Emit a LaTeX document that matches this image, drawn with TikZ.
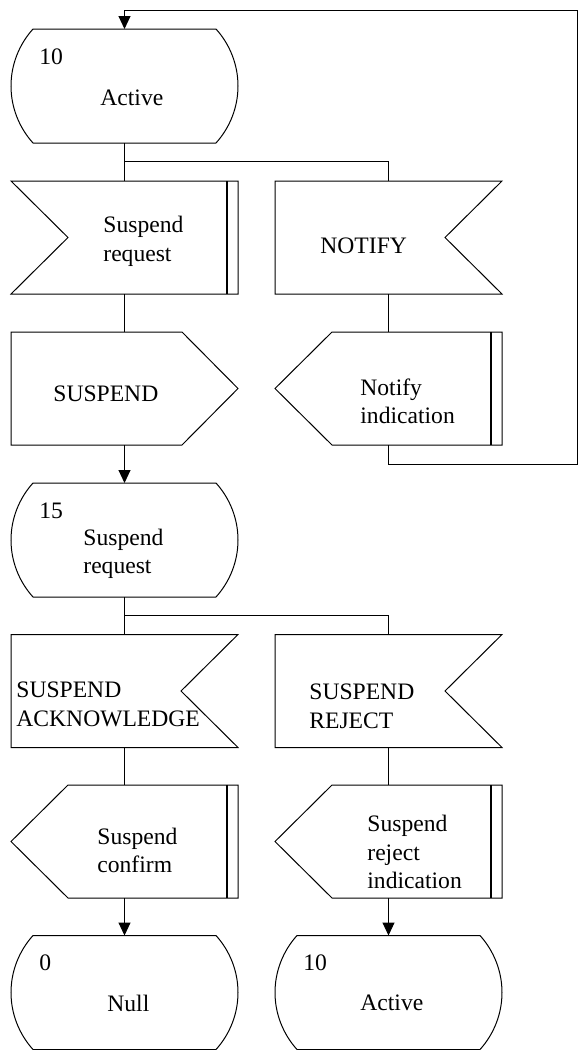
\documentclass[tikz,border=0pt]{standalone}
\usepackage{fontspec}
\setmainfont{Liberation Serif}
\usetikzlibrary{arrows.meta}

% SDL-style symbols, all drawn around their centre (units: x right, y down)
\tikzset{
  outline/.style={draw=black,line width=0.5pt,line join=miter},
  bar/.style={draw=black,line width=1pt},
  wire/.style={draw=black,line width=0.5pt},
  arr/.style={wire,-{Triangle[length=6.5pt,width=6pt]}},
  lbl/.style={anchor=west,align=left,inner sep=0pt,
              font=\fontsize{11.8}{14.3}\selectfont},
  % state symbol: flat top and bottom, rounded sides
  pics/state/.style={code={
    \draw[outline] (-91.5,-57) -- (91.5,-57)
      .. controls (105.6,-41.4) and (113.5,-21) .. (113.5,0)
      .. controls (113.5,21) and (105.6,41.4) .. (91.5,57)
      -- (-91.5,57)
      .. controls (-105.6,41.4) and (-113.5,21) .. (-113.5,0)
      .. controls (-113.5,-21) and (-105.6,-41.4) .. (-91.5,-57) -- cycle;
    \coordinate (-n) at (0,-57);
    \coordinate (-s) at (0,57);
  }},
  % input with notch on the right
  pics/inright/.style={code={
    \draw[outline] (-113.5,-56.5) -- (113.5,-56.5) -- (56.5,0)
      -- (113.5,56.5) -- (-113.5,56.5) -- cycle;
    \coordinate (-n) at (0,-56.5);
    \coordinate (-s) at (0,56.5);
  }},
  % input with notch on the left and a double bar on the right
  pics/inleft/.style={code={
    \draw[outline] (-113.5,-56.5) -- (113.5,-56.5) -- (113.5,56.5)
      -- (-113.5,56.5) -- (-56.5,0) -- cycle;
    \draw[bar] (102.5,-56.5) -- (102.5,56.5);
    \coordinate (-n) at (0,-56.5);
    \coordinate (-s) at (0,56.5);
  }},
  % output pointing right
  pics/outright/.style={code={
    \draw[outline] (-113.5,-56.5) -- (57.5,-56.5) -- (113.5,0)
      -- (57.5,56.5) -- (-113.5,56.5) -- cycle;
    \coordinate (-n) at (0,-56.5);
    \coordinate (-s) at (0,56.5);
  }},
  % output pointing left with a double bar on the right
  pics/outleft/.style={code={
    \draw[outline] (113.5,-56.5) -- (-56.5,-56.5) -- (-113.5,0)
      -- (-56.5,56.5) -- (113.5,56.5) -- cycle;
    \draw[bar] (102.5,-56.5) -- (102.5,56.5);
    \coordinate (-n) at (0,-56.5);
    \coordinate (-s) at (0,56.5);
  }},
}

\begin{document}
\begin{tikzpicture}[x=0.5pt,y=-0.5pt]
\useasboundingbox (0,0) rectangle (578,1050);

% ---- symbols ----
\pic (s1)   at (124.5,86)    {state};
\pic (req)  at (124.5,237.5) {inleft};
\pic (ntf)  at (388.5,237.5) {inright};
\pic (sus)  at (124.5,388.5) {outright};
\pic (nind) at (388.5,388.5) {outleft};
\pic (s2)   at (124.5,540)   {state};
\pic (ack)  at (124.5,691)   {inright};
\pic (rej)  at (388.5,691)   {inright};
\pic (conf) at (124.5,841.5) {outleft};
\pic (rind) at (388.5,841.5) {outleft};
\pic (s3)   at (124.5,992.5) {state};
\pic (s4)   at (388.5,992.5) {state};

% ---- texts ----
\node[lbl] (s1num)  at (39,57)    {10};
\node[lbl] (s1name) at (100,98)   {Active};
\node[lbl] (reqt)   at (103,241.5) {Suspend\\request};
\node[lbl] (ntft)   at (320,246)  {NOTIFY};
\node[lbl] (sust)   at (53,394)   {SUSPEND};
\node[lbl] (nindt)  at (360,401.5) {Notify\\indication};
\node[lbl] (s2num)  at (39,511)   {15};
\node[lbl] (s2name) at (83,554)   {Suspend\\request};
\node[lbl] (ackt)   at (16,704.5) {SUSPEND\\ACKNOWLEDGE};
\node[lbl] (rejt)   at (309,706)  {SUSPEND\\REJECT};
\node[lbl] (conft)  at (97,850.5) {Suspend\\confirm};
\node[lbl] (rindt)  at (367,852)  {Suspend\\reject\\indication};
\node[lbl] (s3num)  at (39,963)   {0};
\node[lbl] (s3name) at (107,1003) {Null};
\node[lbl] (s4num)  at (303,963)  {10};
\node[lbl] (s4name) at (360,1003) {Active};

% ---- branch and loop points ----
\coordinate (br1) at (124.5,161);
\coordinate (br2) at (124.5,615);
\coordinate (lpA) at (577,464);
\coordinate (lpB) at (577,10);

% ---- connectors ----
\draw[wire] (s1-s) -- (req-n);
\draw[wire] (br1) -| (ntf-n);
\draw[wire] (req-s) -- (sus-n);
\draw[arr]  (sus-s) -- (s2-n);
\draw[wire] (ntf-s) -- (nind-n);
\draw[arr]  (nind-s) |- (lpA) -- (lpB) -| (s1-n);

\draw[wire] (s2-s) -- (ack-n);
\draw[wire] (br2) -| (rej-n);
\draw[wire] (ack-s) -- (conf-n);
\draw[arr]  (conf-s) -- (s3-n);
\draw[wire] (rej-s) -- (rind-n);
\draw[arr]  (rind-s) -- (s4-n);
\end{tikzpicture}
\end{document}
